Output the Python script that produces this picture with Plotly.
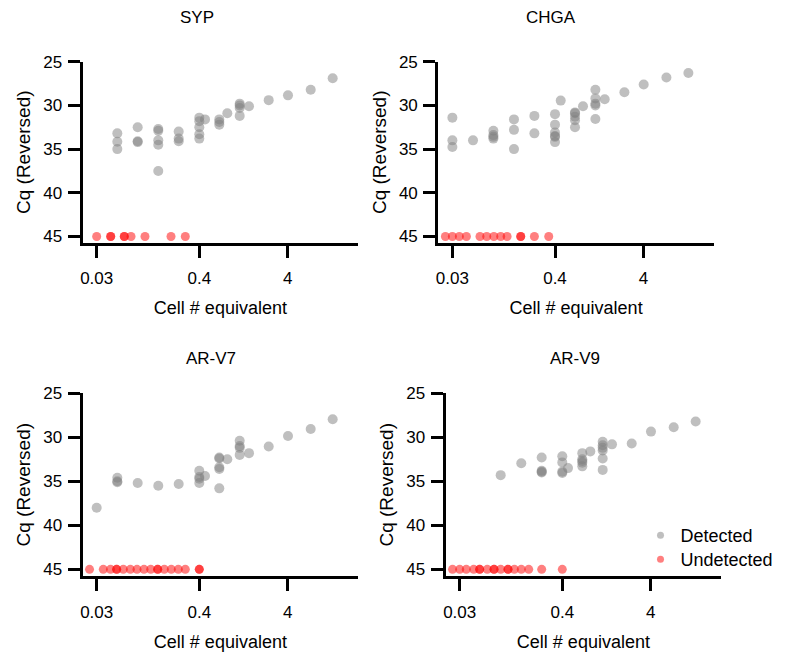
import plotly.graph_objects as go

# ---------------- data ----------------
panel_titles = ["SYP", "CHGA", "AR-V7", "AR-V9"]
x_tick_vals = [0.0277, 0.4, 4]
x_tick_text = ["0.03", "0.4", "4"]
y_tick_vals = [25, 30, 35, 40, 45]
undetected_cq = 45

syp_det_x = [0.0474, 0.0474, 0.0474,
             0.0805, 0.0805, 0.0805,
             0.1376, 0.1376, 0.1376, 0.1376, 0.1376,
             0.234, 0.234, 0.234,
             0.4, 0.4, 0.4, 0.4, 0.4,
             0.464,
             0.673, 0.673, 0.673,
             0.829,
             1.144, 1.144, 1.144, 1.144,
             1.458, 2.434, 4.02, 7.26, 12.86]
syp_det_y = [33.2, 34.15, 35.0,
             32.5, 34.1, 34.2,
             32.7, 32.9, 34.0, 34.5, 37.5,
             33.0, 33.8, 34.1,
             31.4, 31.8, 32.5, 33.3, 33.8,
             31.6,
             31.6, 31.9, 32.2,
             30.9,
             29.8, 30.0, 30.3, 31.2,
             30.1, 29.4, 28.85, 28.2, 26.9]
syp_und_x = [0.0277, 0.0399, 0.0399, 0.0568, 0.0568, 0.0677, 0.0974, 0.1916, 0.278]

chga_det_x = [0.0277, 0.0277, 0.0277,
              0.0474,
              0.0805, 0.0805, 0.0805, 0.0805,
              0.1376, 0.1376, 0.1376,
              0.234, 0.234,
              0.4, 0.4, 0.4, 0.4, 0.4, 0.4,
              0.464,
              0.673, 0.673, 0.673, 0.673, 0.673,
              0.829,
              1.144, 1.144, 1.144, 1.144, 1.144,
              1.458, 2.434, 4.02, 7.26, 12.86]
chga_det_y = [31.4, 34.0, 34.75,
              34.0,
              32.9, 33.4, 33.6, 33.8,
              31.6, 32.8, 35.0,
              31.2, 33.2,
              31.0, 32.2, 33.1, 33.5, 33.6, 34.2,
              29.45,
              30.8, 30.9, 31.3, 31.7, 32.5,
              30.1,
              28.2, 29.2, 29.8, 30.0, 31.55,
              29.3, 28.5, 27.6, 26.8, 26.3]
chga_und_x = [0.0231, 0.0277, 0.0332, 0.0399, 0.0568, 0.0677, 0.0815, 0.0974,
              0.115, 0.164, 0.164, 0.234, 0.34]

arv7_det_x = [0.0277,
              0.0474, 0.0474, 0.0474,
              0.0805, 0.1376, 0.234,
              0.4, 0.4, 0.4, 0.4,
              0.464,
              0.673, 0.673, 0.673, 0.673, 0.673,
              0.829,
              1.144, 1.144, 1.144, 1.144,
              1.458, 2.434, 4.02, 7.26, 12.86]
arv7_det_y = [38.0,
              34.6, 35.0, 35.1,
              35.2, 35.5, 35.3,
              33.8, 34.5, 34.7, 35.2,
              34.4,
              32.3, 32.4, 33.4, 33.6, 35.8,
              32.5,
              30.4, 31.0, 31.2, 32.0,
              31.8, 31.05, 29.85, 29.05, 27.95]
arv7_und_x = [0.023, 0.0329, 0.0397, 0.0466, 0.0466, 0.0554, 0.0665, 0.0791, 0.0949,
              0.113, 0.1355, 0.1355, 0.161, 0.193, 0.2317, 0.278, 0.4, 0.4]

arv9_det_x = [0.0805, 0.1376,
              0.234, 0.234, 0.234, 0.234,
              0.4, 0.4, 0.4, 0.4,
              0.464,
              0.673, 0.673, 0.673, 0.673, 0.673,
              0.829,
              1.144, 1.144, 1.144, 1.144, 1.144, 1.144,
              1.458, 2.434, 4.02, 7.26, 12.86]
arv9_det_y = [34.3, 32.95,
              32.3, 33.8, 33.9, 34.0,
              32.15, 32.85, 33.9, 34.05,
              33.5,
              31.8, 32.5, 32.7, 32.9, 33.3,
              31.6,
              30.5, 30.9, 31.2, 31.5, 32.4, 33.7,
              30.8, 30.7, 29.35, 28.85, 28.2]
arv9_und_x = [0.023, 0.0277, 0.0329, 0.0399, 0.0466, 0.0466, 0.0568, 0.0677, 0.0677,
              0.0805, 0.0974, 0.0974, 0.115, 0.1376, 0.167, 0.234, 0.4]

panels = [
    (syp_det_x, syp_det_y, syp_und_x),
    (chga_det_x, chga_det_y, chga_und_x),
    (arv7_det_x, arv7_det_y, arv7_und_x),
    (arv9_det_x, arv9_det_y, arv9_und_x),
]

# ---------------- layout geometry ----------------
W, H = 792, 669
OFF = 8  # page body margin: figure coordinates = page coordinates - OFF
FONT = "Liberation Sans, Arial, Helvetica, sans-serif"
GRAY = "rgba(128,128,128,0.5)"
RED = "rgba(255,0,0,0.5)"


def px(v):
    return v - OFF


# plot-area page-pixel boxes: (left, right, top, bottom)
boxes = [
    (82.5, 358.3, 61.7, 242.8),
    (438.2, 714.0, 61.7, 242.8),
    (82.5, 358.3, 393.3, 576.2),
    (445.5, 721.3, 393.3, 576.2),
]
title_pos = [(197, 17), (551, 17), (211.5, 358.7), (575, 358.7)]
y_ranges = [[45.72, 25], [45.72, 25], [45.78, 25], [45.78, 25]]
x_range = [-1.7177, 1.3987]

fig = go.Figure()

for i, (dx, dy, ux) in enumerate(panels):
    sfx = "" if i == 0 else str(i + 1)
    fig.add_trace(go.Scatter(
        x=dx, y=dy, mode="markers", xaxis="x" + sfx, yaxis="y" + sfx,
        marker=dict(size=10, color=GRAY, line=dict(width=0)),
        showlegend=False, hoverinfo="x+y"))
    fig.add_trace(go.Scatter(
        x=ux, y=[undetected_cq] * len(ux), mode="markers", xaxis="x" + sfx, yaxis="y" + sfx,
        marker=dict(size=9, color=RED, line=dict(width=0)),
        showlegend=False, hoverinfo="x+y"))

# legend entries (one legend box each, to control spacing)
fig.add_trace(go.Scatter(x=[None], y=[None], mode="markers", name="Detected",
                         marker=dict(size=7, color=GRAY), legend="legend"))
fig.add_trace(go.Scatter(x=[None], y=[None], mode="markers", name="Undetected",
                         marker=dict(size=7, color=RED), legend="legend2"))

axis_common = dict(showline=True, linewidth=3, linecolor="black", ticks="outside",
                   ticklen=12, tickwidth=3, tickcolor="black", showgrid=False,
                   zeroline=False, mirror=False, automargin=False)

legend_common = dict(xanchor="left", yanchor="top", font=dict(size=18, family=FONT),
                     bgcolor="rgba(0,0,0,0)", borderwidth=0)

layout = dict(
    template="none",
    width=W, height=H, autosize=False,
    margin=dict(l=0, r=0, t=0, b=0, pad=0),
    paper_bgcolor="white", plot_bgcolor="white",
    font=dict(family=FONT, color="black"),
    showlegend=True,
    legend=dict(legend_common, x=px(640.5) / W, y=1 - px(535 - 18) / H),
    legend2=dict(legend_common, x=px(640.5) / W, y=1 - px(559 - 18) / H),
)

annotations = []
for i, (box, yr, title, tp) in enumerate(zip(boxes, y_ranges, panel_titles, title_pos)):
    sfx = "" if i == 0 else str(i + 1)
    l, r, t, b = [px(v) for v in box]
    xa = dict(axis_common, type="log", range=x_range,
              domain=[l / W, r / W], anchor="y" + sfx,
              tickvals=x_tick_vals, ticktext=x_tick_text,
              tickfont=dict(size=17, family=FONT),
              ticklabelstandoff=6,
              title=dict(text="Cell # equivalent", font=dict(size=18, family=FONT), standoff=15))
    ya = dict(axis_common, range=yr, domain=[1 - b / H, 1 - t / H], anchor="x" + sfx,
              tickvals=y_tick_vals, tickfont=dict(size=17, family=FONT),
              ticklabelstandoff=2,
              title=dict(text="Cq (Reversed)", font=dict(size=19, family=FONT), standoff=8))
    layout["xaxis" + sfx] = xa
    layout["yaxis" + sfx] = ya
    annotations.append(dict(text=title, x=px(tp[0]) / W, y=1 - px(tp[1]) / H,
                            xref="paper", yref="paper",
                            xanchor="center", yanchor="middle", showarrow=False,
                            font=dict(size=17, family=FONT)))

layout["annotations"] = annotations
fig.update_layout(**layout)

fig.write_html("out.html")
